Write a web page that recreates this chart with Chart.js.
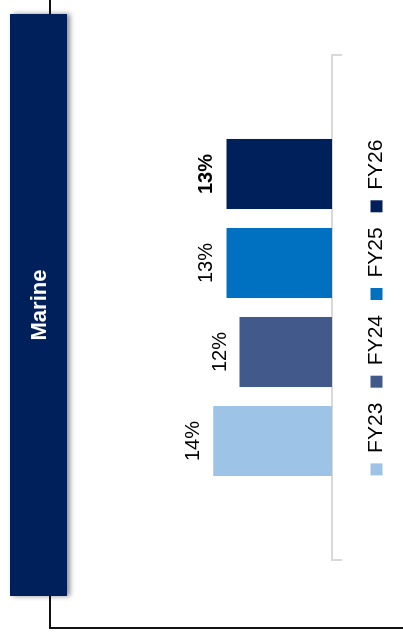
<!DOCTYPE html>
<html>
<head>
<meta charset="utf-8">
<script src="https://cdn.jsdelivr.net/npm/chart.js@4.4.1/dist/chart.umd.min.js"></script>
<style>
  html, body { margin: 0; padding: 0; background: #fff; overflow: hidden; width: 403px; height: 639px; }
  /* The slide panel is laid out landscape and turned a quarter-turn to stand upright */
  #panel { position: absolute; left: 0; top: 0; width: 639px; height: 403px;
           transform-origin: 0 0; transform: translateY(639px) rotate(-90deg);
           font-family: "Liberation Sans", Arial, sans-serif; }
  .rule-h { position: absolute; left: 10px; top: 49px; width: 629px; height: 2px; background: #111; }
  .rule-v { position: absolute; left: 10px; top: 49px; width: 2px; height: 354px; background: #111; }
  #banner { position: absolute; left: 43px; top: 10px; width: 582px; height: 57px; background: #00205B;
            box-shadow: 0 3px 5px rgba(0,0,0,0.45); color: #fff; font-weight: bold; font-size: 22px;
            display: flex; align-items: center; justify-content: center; }
  #chartBox { position: absolute; left: 0; top: 0; width: 639px; height: 403px; }
</style>
</head>
<body>
<div id="panel">
  <div class="rule-h"></div>
  <div class="rule-v"></div>
  <div id="chartBox"><canvas id="chart"></canvas></div>
  <div id="banner">Marine</div>
</div>
<script>
// Segment shown and the fiscal-year series
const categories = ['Marine'];
const seriesNames = ['FY23', 'FY24', 'FY25', 'FY26'];
const seriesValues = [14, 12, 13, 13];
const seriesColors = ['#9DC3E6', '#41598B', '#0070C0', '#00205B'];
const boldLabel = [false, false, false, true];

const FONT = '"Liberation Sans", Arial, sans-serif';

// Percentage labels above each bar
const valueLabels = {
  id: 'valueLabels',
  afterDatasetsDraw(chart) {
    const ctx = chart.ctx;
    ctx.save();
    ctx.fillStyle = '#000';
    ctx.textAlign = 'center';
    ctx.textBaseline = 'alphabetic';
    chart.data.datasets.forEach((ds, i) => {
      const meta = chart.getDatasetMeta(i);
      meta.data.forEach((bar, j) => {
        ctx.font = (boldLabel[i] ? 'bold ' : '') + '20px ' + FONT;
        ctx.fillText(ds.data[j] + '%', bar.x, bar.y - 14);
      });
    });
    ctx.restore();
  }
};

new Chart(document.getElementById('chart'), {
  type: 'bar',
  data: {
    labels: categories,
    datasets: seriesNames.map((name, i) => ({
      label: name,
      data: [seriesValues[i]],
      backgroundColor: seriesColors[i],
      borderWidth: 0,
      categoryPercentage: 0.705,
      barPercentage: 0.787
    }))
  },
  options: {
    responsive: true,
    maintainAspectRatio: false,
    animation: false,
    devicePixelRatio: 1,
    layout: { padding: { left: 79, right: 55, top: 134, bottom: 6 } },
    plugins: {
      legend: {
        position: 'bottom',
        labels: { boxWidth: 12, boxHeight: 12, padding: 15, color: '#000', font: { size: 21, family: FONT } }
      },
      tooltip: { enabled: false }
    },
    scales: {
      x: {
        grid: { drawOnChartArea: false, drawTicks: true, tickLength: 10, color: '#D9D9D9', lineWidth: 2 },
        border: { display: true, color: '#D9D9D9', width: 2 },
        ticks: { display: false },
        afterFit: s => { s.height = 19; }
      },
      y: { display: false, min: 5, max: 20 }
    }
  },
  plugins: [valueLabels]
});
</script>
</body>
</html>
